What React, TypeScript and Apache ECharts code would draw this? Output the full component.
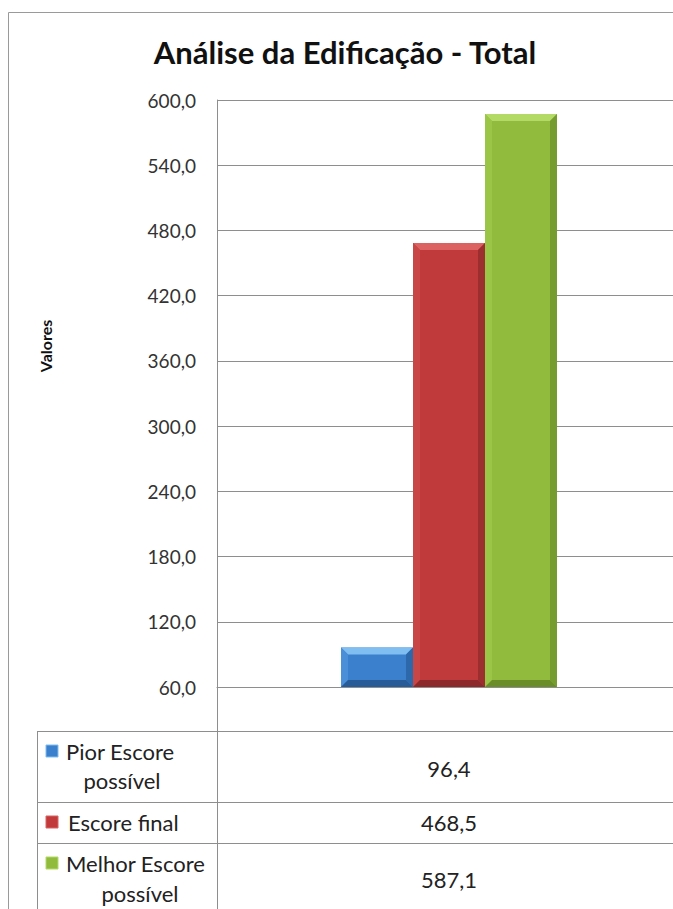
import React, { useEffect, useRef } from "react";
import * as echarts from "echarts";

const title = "Análise da Edificação - Total";
const yAxisName = "Valores";
const seriesNames = [["Pior Escore", "possível"], ["Escore final"], ["Melhor Escore", "possível"]];
const seriesValues = [96.4, 468.5, 587.1];
const yTicks = { min: 60, max: 600, interval: 60 };
const palette = [
  { body: "#3b80cd", top: "#80bdf0", left: "#4b8fd8", right: "#2d68ab", bottom: "#275c98" },
  { body: "#c03a3b", top: "#dc6262", left: "#c94647", right: "#9c2e30", bottom: "#8e292b" },
  { body: "#91bb3d", top: "#b4da66", left: "#9bc547", right: "#769b2f", bottom: "#6b8d29" },
];

const fmt = (v: number) => v.toFixed(1).replace(".", ",");

const GRID_LEFT = 217;
const GRID_TOP = 100;
const GRID_H = 587;
const BAR_W = 72;
const BAR_SHIFT = 4;
const BEVEL = 7;
const FONT = "Lato, 'Open Sans', sans-serif";
const LINE = "#8e8e8e";

export default function App() {
  const ref = useRef<HTMLDivElement>(null);
  useEffect(() => {
    if (!ref.current) return;
    const chart = echarts.init(ref.current, undefined, { renderer: "svg" });
    const n = seriesValues.length;
    const series = seriesValues.map((val, i) => ({
      type: "custom",
      name: seriesNames[i].join(" "),
      data: [[0, val]],
      clip: false,
      renderItem: (params: any, api: any) => {
        const v = api.value(1);
        const c = api.coord([0, v]);
        const base = api.coord([0, yTicks.min]);
        const x0 = c[0] + BAR_SHIFT + (i - n / 2) * BAR_W;
        const x1 = x0 + BAR_W;
        const yt = c[1];
        const yb = base[1];
        const b = Math.min(BEVEL, (yb - yt) / 2);
        const col = palette[i];
        return {
          type: "group",
          children: [
            { type: "rect", shape: { x: x0, y: yt, width: BAR_W, height: yb - yt }, style: { fill: col.body } },
            { type: "polygon", shape: { points: [[x0, yt], [x1, yt], [x1 - b, yt + b], [x0 + b, yt + b]] }, style: { fill: col.top } },
            { type: "polygon", shape: { points: [[x0, yt], [x0 + b, yt + b], [x0 + b, yb - b], [x0, yb]] }, style: { fill: col.left } },
            { type: "polygon", shape: { points: [[x1, yt], [x1 - b, yt + b], [x1 - b, yb - b], [x1, yb]] }, style: { fill: col.right } },
            { type: "polygon", shape: { points: [[x0, yb], [x0 + b, yb - b], [x1 - b, yb - b], [x1, yb]] }, style: { fill: col.bottom } },
          ],
        };
      },
    }));

    const tableTop = 731;
    const rowLines = [802, 843];
    const tableLeft = 37;
    const bottom = 909;
    const cx = 449;
    const rowLayouts = [
      { keyY: 745, lines: [{ x: 66, y: 751, align: "left" }, { x: 122, y: 780, align: "center" }], valY: 768 },
      { keyY: 816, lines: [{ x: 68, y: 822, align: "left" }], valY: 822 },
      { keyY: 857, lines: [{ x: 66, y: 863, align: "left" }, { x: 140, y: 893, align: "center" }], valY: 879 },
    ];

    const graphics: any[] = [
      { type: "polyline", shape: { points: [[8.5, bottom], [8.5, 12.5], [673, 12.5]] }, style: { stroke: "#9a9a9a", lineWidth: 1, fill: null } },
      { type: "text", x: 345, y: 52, style: { text: title, font: `bold 31px ${FONT}`, fill: "#111", textAlign: "center", textVerticalAlign: "middle" } },
      { type: "text", x: 45, y: 346, rotation: Math.PI / 2, style: { text: yAxisName, font: `bold 16px ${FONT}`, fill: "#111", textAlign: "center", textVerticalAlign: "middle" } },
      { type: "line", shape: { x1: tableLeft, y1: tableTop + 0.5, x2: 673, y2: tableTop + 0.5 }, style: { stroke: LINE, lineWidth: 1 } },
      ...rowLines.map((y) => ({ type: "line", shape: { x1: tableLeft, y1: y + 0.5, x2: 673, y2: y + 0.5 }, style: { stroke: LINE, lineWidth: 1 } })),
      { type: "line", shape: { x1: tableLeft + 0.5, y1: tableTop, x2: tableLeft + 0.5, y2: bottom }, style: { stroke: LINE, lineWidth: 1 } },
      { type: "line", shape: { x1: GRID_LEFT + 0.5, y1: GRID_TOP + GRID_H, x2: GRID_LEFT + 0.5, y2: bottom }, style: { stroke: LINE, lineWidth: 1 } },
    ];
    rowLayouts.forEach((r, i) => {
      graphics.push({ type: "rect", shape: { x: 46, y: r.keyY, width: 12, height: 12 }, style: { fill: palette[i].body, stroke: palette[i].top, lineWidth: 1 } });
      r.lines.forEach((l, j) => {
        graphics.push({ type: "text", x: l.x, y: l.y, style: { text: seriesNames[i][j], font: `22px ${FONT}`, fill: "#222", textAlign: l.align, textVerticalAlign: "middle" } });
      });
      graphics.push({ type: "text", x: cx, y: r.valY, style: { text: fmt(seriesValues[i]), font: `22px ${FONT}`, fill: "#222", textAlign: "center", textVerticalAlign: "middle" } });
    });

    chart.setOption({
      animation: false,
      backgroundColor: "#fff",
      grid: { left: GRID_LEFT, top: GRID_TOP, right: 0, height: GRID_H, containLabel: false },
      xAxis: {
        type: "category",
        data: [""],
        axisLine: { show: true, lineStyle: { color: LINE } },
        axisTick: { show: false },
        axisLabel: { show: false },
      },
      yAxis: {
        type: "value",
        min: yTicks.min,
        max: yTicks.max,
        interval: yTicks.interval,
        axisLine: { show: true, lineStyle: { color: LINE } },
        axisTick: { show: false },
        axisLabel: { formatter: (v: number) => fmt(v), color: "#333", fontSize: 19, fontFamily: FONT, margin: 21 },
        splitLine: { show: true, lineStyle: { color: LINE, width: 1 } },
      },
      series,
      graphic: graphics,
    });
    return () => chart.dispose();
  }, []);
  return <div ref={ref} style={{ width: 673, height: 909, position: "absolute", left: 0, top: 0 }} />;
}
